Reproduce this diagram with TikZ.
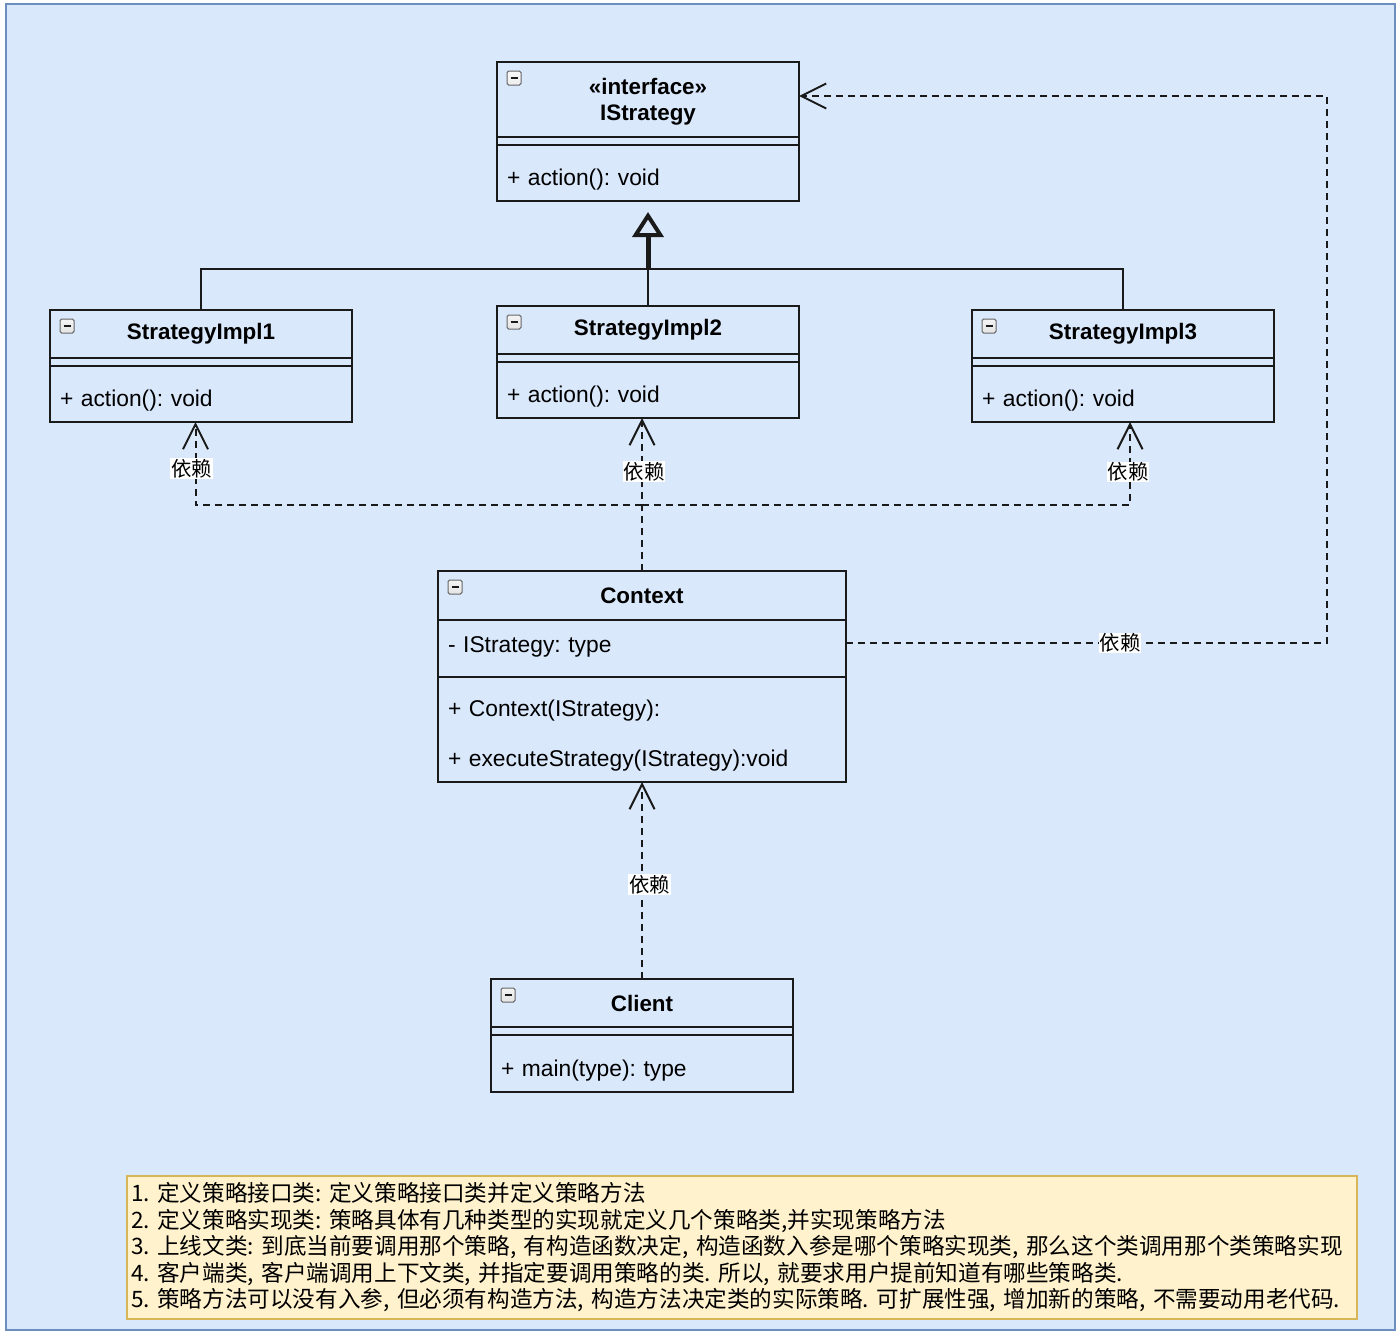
\documentclass[tikz,border=0pt]{standalone}
\usepackage{fontspec}
\setmainfont{Liberation Sans}
\newfontfamily\cjk{Noto Sans CJK SC}
\usetikzlibrary{positioning,arrows.meta}
\definecolor{canvasfill}{HTML}{DAE8FC}
\definecolor{canvasline}{HTML}{6C8EBF}
\definecolor{notefill}{HTML}{FFF2CC}
\definecolor{noteline}{HTML}{D6B656}
\definecolor{umlline}{HTML}{1A1A1A}
\frenchspacing

\begin{document}
\begin{tikzpicture}[
  x=0.5pt,y=-0.5pt,
  every node/.style={outer sep=0pt},
  umlhead/.style={draw=umlline,line width=1pt,minimum width=151pt,align=center,
    font=\bfseries\fontsize{11.2}{13}\selectfont,
    path picture={
      \draw[gray!80!black,line width=0.5pt,rounded corners=0.8pt,top color=white,bottom color=gray!45]
        ([shift={(5pt,-4.5pt)}]path picture bounding box.north west) rectangle ++(14,14);
      \draw[umlline,line width=0.9pt]
        ([shift={(6.8pt,-8pt)}]path picture bounding box.north west) -- ++(7,0);
    }},
  umlgap/.style={draw=umlline,line width=1pt,minimum width=151pt,minimum height=4pt,inner sep=0pt},
  umlbody/.style={draw=umlline,line width=1pt,inner xsep=5pt,text width=141pt,align=left,
    minimum height=28pt,text height=13pt,text depth=1pt,font=\fontsize{11.4}{25}\selectfont},
  dep/.style={draw=umlline,line width=1pt,dash pattern=on 3.5pt off 2.5pt,
    -{Straight Barb[length=12.5pt,width=12.5pt]}},
  deplabel/.style={fill=white,inner sep=0.4pt,font=\cjk\fontsize{10.2}{11}\selectfont},
  inherit/.style={draw=umlline,line width=1pt},
  realize/.style={draw=umlline,line width=2.5pt,
    -{Triangle[length=12.5pt,width=15.5pt,line width=2pt,fill=canvasfill]}},
  note/.style={draw=noteline,fill=notefill,line width=1pt,inner xsep=2pt,text width=611pt,
    align=left,minimum height=70pt,font=\cjk\fontsize{11.3}{13.25}\selectfont}
]
\useasboundingbox (0,0) rectangle (1400,1334);
\fill[white] (0,0) rectangle (1400,1334);
\draw[draw=canvasline,fill=canvasfill,line width=1pt] (6,4) rectangle (1395,1330);

\node[umlhead,minimum height=37.5pt,text depth=-0.5pt,anchor=north west] (istrategy) at (497,62) {«interface»\\IStrategy};
\node[umlgap,below=0pt of istrategy] (istrategy-gap) {};
\node[umlbody,below=0pt of istrategy-gap] (istrategy-ops) {+ action(): void};

\node[umlhead,minimum height=24pt,anchor=north west] (impl1) at (50,310) {StrategyImpl1};
\node[umlgap,below=0pt of impl1] (impl1-gap) {};
\node[umlbody,below=0pt of impl1-gap] (impl1-ops) {+ action(): void};

\node[umlhead,minimum height=24pt,anchor=north west] (impl2) at (497,306) {StrategyImpl2};
\node[umlgap,below=0pt of impl2] (impl2-gap) {};
\node[umlbody,below=0pt of impl2-gap] (impl2-ops) {+ action(): void};

\node[umlhead,minimum height=24pt,anchor=north west] (impl3) at (972,310) {StrategyImpl3};
\node[umlgap,below=0pt of impl3] (impl3-gap) {};
\node[umlbody,below=0pt of impl3-gap] (impl3-ops) {+ action(): void};

\node[umlhead,minimum width=204pt,minimum height=24.5pt,anchor=north west] (context) at (438,571) {Context};
\node[umlbody,text width=194pt,minimum height=28.5pt,text height=8.5pt,text depth=5pt,
  below=0pt of context] (context-attr) {- IStrategy: type};
\node[umlbody,text width=194pt,minimum height=52.5pt,text height=13.9pt,text depth=27.4pt,
  below=0pt of context-attr] (context-ops) {+ Context(IStrategy):\\+ executeStrategy(IStrategy):void};

\node[umlhead,minimum height=24pt,anchor=north west] (client) at (491,979) {Client};
\node[umlgap,below=0pt of client] (client-gap) {};
\node[umlbody,minimum height=28.5pt,text height=13.5pt,below=0pt of client-gap] (client-ops) {+ main(type): type};

\node[note,anchor=north west] (notes) at (127,1176) {\mbox{1. 定义策略接口类: 定义策略接口类并定义策略方法}\\
\mbox{2. 定义策略实现类: 策略具体有几种类型的实现就定义几个策略类,并实现策略方法}\\
\mbox{3. 上线文类: 到底当前要调用那个策略, 有构造函数决定, 构造函数入参是哪个策略实现类, 那么这个类调用那个类策略实现}\\
\mbox{4. 客户端类, 客户端调用上下文类, 并指定要调用策略的类. 所以, 就要求用户提前知道有哪些策略类.}\\
\mbox{5. 策略方法可以没有入参, 但必须有构造方法, 构造方法决定类的实际策略. 可扩展性强, 增加新的策略, 不需要动用老代码.}};

\coordinate (ihub) at (648,269);
\coordinate (depbus) at (642,505);
\coordinate (deproute) at (1327,96);

\draw[inherit] (impl1.north) |- (ihub);
\draw[inherit] (impl3.north) |- (ihub);
\draw[inherit] (impl2.north) -- (ihub);
\draw[realize,shorten >=5.5pt] (ihub) -- (istrategy-ops.south);

\draw[dep] (context.north) -- (impl2-ops.south -| context.north) node[deplabel,pos=0.65,xshift=1pt] {依赖};
\draw[dep] (depbus) -| ([xshift=-2.75pt]impl1-ops.south) node[deplabel,pos=0.72,xshift=-2pt] {依赖};
\draw[dep] (depbus) -| ([xshift=3.5pt]impl3-ops.south) node[deplabel,pos=0.7,xshift=-1pt] {依赖};
\draw[dep] ([yshift=2.75pt]context-attr.east) -| node[deplabel,pos=0.285] {依赖} (deproute) -- ([yshift=1.75pt]istrategy.east);
\draw[dep] (client.north) -- (context-ops.south) node[deplabel,pos=0.48,xshift=3.75pt] {依赖};
\end{tikzpicture}
\end{document}
